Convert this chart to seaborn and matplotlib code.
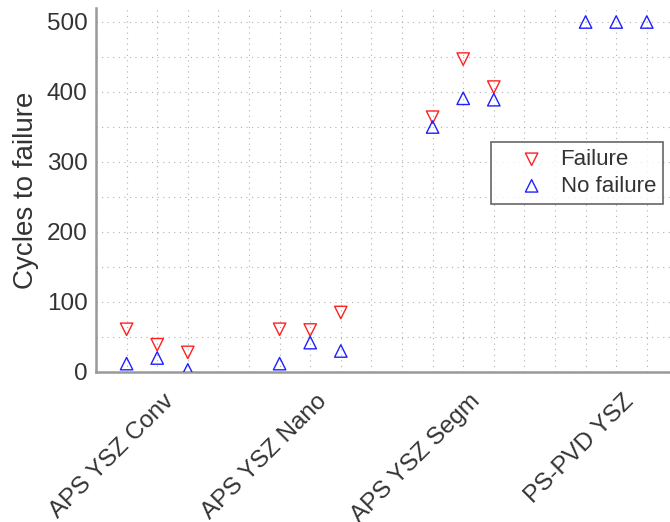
import numpy as np
import pandas as pd
import matplotlib
matplotlib.use('Agg')
import matplotlib.pyplot as plt
import matplotlib.transforms as mtrans
from matplotlib.ticker import MultipleLocator
import seaborn as sns

# coatings and three samples per coating
coatings = ['APS YSZ Conv', 'APS YSZ Nano', 'APS YSZ Segm', 'PS-PVD YSZ']
failure_cycles = [[61, 39, 28], [61, 60, 85], [364, 447, 407], [np.nan, np.nan, np.nan]]
no_failure_cycles = [[12, 20, 3], [12, 42, 30], [350, 391, 389], [500, 500, 500]]
sample_offsets = [-1, 0, 1]
group_spacing = 5

rows = []
for g, name in enumerate(coatings):
    for k, off in enumerate(sample_offsets):
        pos = 2 + group_spacing * g + off
        rows.append({'pos': pos, 'cycles': failure_cycles[g][k], 'status': 'Failure'})
        rows.append({'pos': pos, 'cycles': no_failure_cycles[g][k], 'status': 'No failure'})
df = pd.DataFrame(rows)

sns.set_style('white')
plt.rcParams['font.family'] = ['Liberation Sans', 'DejaVu Sans']
text_col = '#333333'

fig = plt.figure(figsize=(6.7, 5.22), dpi=100)
ax = fig.add_axes([96 / 670, 1 - 372 / 522, 1 - 96 / 670, 364 / 522])

sns.scatterplot(data=df[df['status'] == 'Failure'], x='pos', y='cycles', ax=ax,
                marker='v', s=80, color='#ff2020', facecolor='none', edgecolor='#ff2020',
                linewidth=1.0, label='Failure', zorder=3)
sns.scatterplot(data=df[df['status'] == 'No failure'], x='pos', y='cycles', ax=ax,
                marker='^', s=80, color='#2020ff', facecolor='none', edgecolor='#2020ff',
                linewidth=1.0, label='No failure', zorder=3)

ax.set_xlim(0, 574 / 30.6)
ax.set_ylim(0, 520)
ax.set_xticks([2 + group_spacing * g for g in range(len(coatings))])
ax.set_xticklabels(coatings, rotation=45, ha='right', va='top', rotation_mode='anchor',
                   fontsize=17.5, color=text_col)
ax.set_yticks([0, 100, 200, 300, 400, 500])
ax.tick_params(axis='y', labelsize=17.5, labelcolor=text_col)
ax.xaxis.set_minor_locator(MultipleLocator(1))
ax.yaxis.set_minor_locator(MultipleLocator(50))
ax.tick_params(which='major', direction='in', length=4, width=1, color='#333333', pad=6)
ax.tick_params(axis='x', which='major', pad=13)
ax.tick_params(which='minor', length=0)

ax.grid(which='both', linestyle=(0, (1, 4)), linewidth=0.8, color='#b0b0b0')
ax.set_axisbelow(True)

for side in ['top', 'right']:
    ax.spines[side].set_visible(False)
for side in ['left', 'bottom']:
    ax.spines[side].set_color('#999999')
    ax.spines[side].set_linewidth(1.8)

ax.set_xlabel('')
ax.set_ylabel('Cycles to failure', fontsize=20, color=text_col, labelpad=6)

leg = ax.legend(loc='upper right', bbox_to_anchor=(663 / 670, 1 - 142 / 522),
                bbox_transform=fig.transFigure, frameon=True, fancybox=False,
                fontsize=16, handletextpad=-0.2, borderpad=0.32, labelspacing=0.25,
                handlelength=3.0, borderaxespad=0)
leg.get_frame().set_edgecolor('#404040')
leg.get_frame().set_linewidth(1.2)
for t in leg.get_texts():
    t.set_color(text_col)

# nudge the rotated labels to the right, after the ticks exist
fig.canvas.draw()
shift = mtrans.ScaledTranslation(6 / 100, 0, fig.dpi_scale_trans)
for lab in ax.get_xticklabels():
    lab.set_transform(lab.get_transform() + shift)

fig.savefig('out.png', dpi=100)
